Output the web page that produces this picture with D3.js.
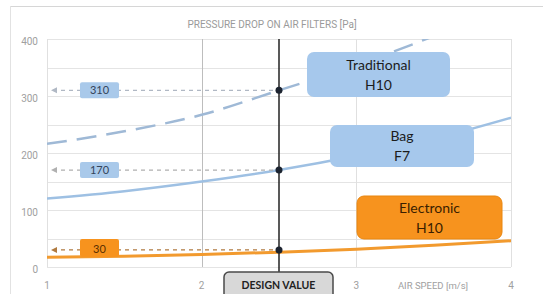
<!DOCTYPE html>
<html><head><meta charset="utf-8">
<script src="https://cdn.jsdelivr.net/npm/d3@7"></script>
<style>body{margin:0;background:#fff}svg{display:block}</style>
</head><body><svg id="c" width="543" height="294"></svg>
<script>
const speeds = [1, 1.5, 2, 2.5, 3, 3.5, 4];
const traditionalH10 = [216, 238, 267, 310, 354, 405, 460];
const bagF7 = [120, 133, 150, 170, 195, 225, 262];
const electronicH10 = [17, 19, 22, 26, 31, 38, 46];
const designSpeed = 2.5;
const designValues = [310, 170, 30];
const designLabels = ["310", "170", "30"];
const seriesNames = [["Traditional", "H10"], ["Bag", "F7"], ["Electronic", "H10"]];
const yTicks = [0, 100, 200, 300, 400];
const xTicks = [1, 2, 3, 4];
const title = "PRESSURE DROP ON AIR FILTERS [Pa]";
const xTitle = "AIR SPEED [m/s]";

const svg = d3.select("#c");
const x = d3.scaleLinear().domain([1, 4]).range([47, 511]);
const y = d3.scaleLinear().domain([0, 400]).range([267, 39]);

// frame
svg.append("line").attr("x1", 10).attr("x2", 543).attr("y1", 6.5).attr("y2", 6.5).attr("stroke", "#d6d6d6");
svg.append("line").attr("x1", 10.5).attr("x2", 10.5).attr("y1", 6).attr("y2", 294).attr("stroke", "#e2e2e2");

svg.append("text").attr("x", 272).attr("y", 28).attr("text-anchor", "middle")
  .attr("font-family", "Liberation Sans Narrow, Roboto, sans-serif").attr("font-size", 10)
  .attr("fill", "#9a9a9a").text(title);

// grid
const grid = svg.append("g");
grid.selectAll(".h").data(d3.range(0, 401, 50)).join("line")
  .attr("x1", x(1)).attr("x2", x(4)).attr("y1", d => Math.round(y(d)) + 0.5).attr("y2", d => Math.round(y(d)) + 0.5)
  .attr("stroke", "#e4e4e4");
grid.selectAll(".v").data(xTicks).join("line")
  .attr("x1", d => Math.round(x(d)) + 0.5).attr("x2", d => Math.round(x(d)) + 0.5)
  .attr("y1", y(400)).attr("y2", y(0))
  .attr("stroke", d => d === 2 ? "#bdbdbd" : "#e0e0e0");

// y labels
svg.append("g").selectAll("text").data(yTicks).join("text")
  .attr("x", 38).attr("y", d => y(d) + 6).attr("text-anchor", "end")
  .attr("font-family", "Roboto, sans-serif").attr("font-size", 10).attr("fill", "#a0a0a0")
  .text(d => d);
// x labels
svg.append("g").selectAll("text").data(xTicks).join("text")
  .attr("x", d => x(d)).attr("y", 289).attr("text-anchor", "middle")
  .attr("font-family", "Roboto, sans-serif").attr("font-size", 10).attr("fill", "#a0a0a0")
  .text(d => d);
svg.append("text").attr("x", 433).attr("y", 289).attr("text-anchor", "middle")
  .attr("font-family", "Liberation Sans Narrow, Roboto, sans-serif").attr("font-size", 9.5).attr("fill", "#a0a0a0")
  .text(xTitle);

// clip
svg.append("clipPath").attr("id", "clip").append("rect")
  .attr("x", x(1)).attr("y", y(400)).attr("width", x(4) - x(1)).attr("height", y(0) - y(400));

const line = d3.line().x(d => x(d[0])).y(d => y(d[1])).curve(d3.curveMonotoneX);
const lines = svg.append("g").attr("clip-path", "url(#clip)");
lines.append("path").attr("d", line(speeds.map((s, i) => [s, traditionalH10[i]])))
  .attr("fill", "none").attr("stroke", "#9fb9d6").attr("stroke-width", 2.5).attr("stroke-dasharray", "20,10");
lines.append("path").attr("d", line(speeds.map((s, i) => [s, bagF7[i]])))
  .attr("fill", "none").attr("stroke", "#9ec0e3").attr("stroke-width", 2.5);
lines.append("path").attr("d", line(speeds.map((s, i) => [s, electronicH10[i]])))
  .attr("fill", "none").attr("stroke", "#f29a2e").attr("stroke-width", 3);

// reference dashed lines
const refColors = ["#b0b8c4", "#b0b0b0", "#b07a40"];
designValues.forEach((v, i) => {
  const yy = y(v);
  svg.append("line").attr("x1", 53).attr("x2", x(designSpeed)).attr("y1", yy).attr("y2", yy)
    .attr("stroke", refColors[i]).attr("stroke-width", 1.2).attr("stroke-dasharray", "4,4");
  svg.append("path").attr("d", `M${51},${yy} l6,-3 l0,6 z`).attr("fill", refColors[i]);
});

// design line
svg.append("line").attr("x1", x(designSpeed)).attr("x2", x(designSpeed)).attr("y1", y(400)).attr("y2", 274)
  .attr("stroke", "#222").attr("stroke-width", 1.5);
svg.append("g").selectAll("circle").data(designValues).join("circle")
  .attr("cx", x(designSpeed)).attr("cy", d => y(d)).attr("r", 3.5).attr("fill", "#1d2430");

// value boxes
const boxFill = ["#a9c9ea", "#a9c9ea", "#f7931e"];
const boxText = ["#34445a", "#34445a", "#5a3000"];
designValues.forEach((v, i) => {
  const yy = y(v);
  const h = i === 2 ? 18 : 16;
  svg.append("rect").attr("x", 80).attr("y", yy - h / 2 - (i === 2 ? 2 : 0)).attr("width", 39).attr("height", h)
    .attr("rx", 2).attr("fill", boxFill[i]);
  svg.append("text").attr("x", 99.5).attr("y", yy + 4 - (i === 2 ? 1 : 0)).attr("text-anchor", "middle")
    .attr("font-family", "Lato, sans-serif").attr("font-size", 11).attr("fill", boxText[i]).text(designLabels[i]);
});

// series label boxes
const labelBoxes = [
  {x: 307, y: 52, w: 143, h: 45, fill: "#a6c8ec", stroke: "none", tc: "#1c1c1c"},
  {x: 330, y: 125, w: 144, h: 42, fill: "#a6c8ec", stroke: "none", tc: "#1c1c1c"},
  {x: 357, y: 196, w: 145, h: 43, fill: "#f7931e", stroke: "#e9860f", tc: "#3a1e00"}
];
labelBoxes.forEach((b, i) => {
  svg.append("rect").attr("x", b.x).attr("y", b.y).attr("width", b.w).attr("height", b.h)
    .attr("rx", 7).attr("fill", b.fill).attr("stroke", b.stroke);
  svg.append("text").attr("x", b.x + b.w / 2).attr("y", b.y + b.h / 2 - 5).attr("text-anchor", "middle")
    .attr("font-family", "Lato, sans-serif").attr("font-size", 14).attr("fill", b.tc).text(seriesNames[i][0]);
  svg.append("text").attr("x", b.x + b.w / 2).attr("y", b.y + b.h / 2 + 15).attr("text-anchor", "middle")
    .attr("font-family", "Lato, sans-serif").attr("font-size", 14).attr("fill", b.tc).text(seriesNames[i][1]);
});

// design value box
svg.append("rect").attr("x", 224).attr("y", 272).attr("width", 109).attr("height", 30).attr("rx", 5)
  .attr("fill", "#d8d8d8").attr("stroke", "#4a4a4a").attr("stroke-width", 1.5);
svg.append("text").attr("x", 278.5).attr("y", 289).attr("text-anchor", "middle")
  .attr("font-family", "Lato, sans-serif").attr("font-weight", "bold").attr("font-size", 10.5).attr("fill", "#222")
  .text("DESIGN VALUE");
</script></body></html>
